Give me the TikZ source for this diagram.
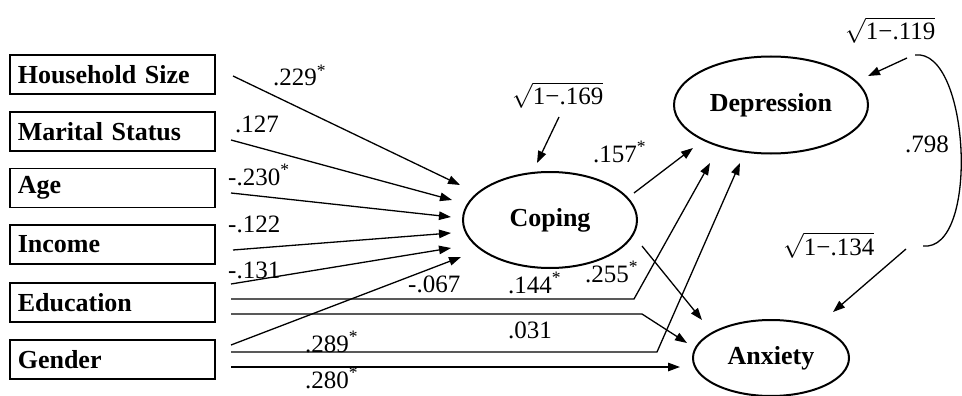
\documentclass[tikz,border=0pt]{standalone}
\usepackage{amsmath}
\usepackage{fontspec}
\setmainfont{Liberation Serif}
\usetikzlibrary{arrows.meta,shapes.geometric}

\begin{document}
\begin{tikzpicture}[x=1pt,y=-1pt,
  varbox/.style={draw,line width=1.6pt,anchor=west,minimum height=39pt,
    text width=189pt,inner xsep=8pt,align=left,
    font=\fontsize{26}{28}\selectfont\bfseries},
  latent/.style={draw,ellipse,line width=2pt,inner sep=0pt,
    font=\fontsize{26}{28}\selectfont\bfseries},
  arr/.style={-{Triangle[length=12pt,width=8.5pt]},line width=1.3pt},
  lbl/.style={anchor=base west,inner sep=0pt,font=\fontsize{25}{27}\selectfont}]
\useasboundingbox (0,0) rectangle (962,396);

% predictors
\node[varbox] (hs) at (9,74.5) {Household Size};
\node[varbox] (ms) at (9,131.5) {Marital Status};
\node[varbox] (age) at (9,188) {Age};
\node[varbox] (inc) at (9,244.5) {Income};
\node[varbox] (edu) at (9,302.5) {Education};
\node[varbox] (gen) at (9,359.5) {Gender};

% latent variables
\node[latent,minimum width=174pt,minimum height=96pt] (cop) at (550,220) {Coping};
\node[latent,minimum width=194pt,minimum height=97pt] (dep) at (771,105) {Depression};
\node[latent,minimum width=156pt,minimum height=76pt] (anx) at (771,358) {Anxiety};

% connector ends
\coordinate (hs-o) at (233,76);
\coordinate (ms-o) at (231,140);
\coordinate (age-o) at (231,193);
\coordinate (inc-o) at (233,250);
\coordinate (edu-o) at (231,284);
\coordinate (gen-o) at (231,345);
\coordinate (cop-a) at (460,185);
\coordinate (cop-b) at (452,200);
\coordinate (cop-c) at (451,217);
\coordinate (cop-d) at (451,233);
\coordinate (cop-e) at (451,248);
\coordinate (cop-f) at (461,257);

\draw[arr] (hs-o) -- (cop-a);
\draw[arr] (ms-o) -- (cop-b);
\draw[arr] (age-o) -- (cop-c);
\draw[arr] (inc-o) -- (cop-d);
\draw[arr] (edu-o) -- (cop-e);
\draw[arr] (gen-o) -- (cop-f);

% direct paths
\coordinate (edu-d) at (231,299);
\coordinate (edu-a) at (231,314);
\coordinate (gen-d) at (231,352);
\coordinate (gen-a) at (231,367);
\coordinate (dep-a) at (710,163);
\coordinate (dep-b) at (740,163);
\coordinate (anx-a) at (687,343);
\coordinate (anx-b) at (680,367);
\draw[arr] (edu-d) -- (634,299) -- (dep-a);
\draw[arr] (edu-a) -- (642,314) -- (anx-a);
\draw[arr] (gen-d) -- (657,352) -- (dep-b);
\draw[arr] (gen-a) -- (anx-b);

% mediator paths
\coordinate (cop-o1) at (634,193);
\coordinate (cop-o2) at (642,246);
\coordinate (dep-in) at (693,148);
\coordinate (anx-in) at (702,320);
\draw[arr] (cop-o1) -- (dep-in);
\draw[arr] (cop-o2) -- (anx-in);

% residuals
\node[lbl] (cop-e1) at (512,105) {$\sqrt{\mbox{1−.169}}$};
\node[lbl] (dep-e1) at (845,40) {$\sqrt{\mbox{1−.119}}$};
\node[lbl] (anx-e1) at (783,255) {$\sqrt{\mbox{1−.134}}$};
\coordinate (cop-r) at (559,117);
\coordinate (cop-rt) at (537,163);
\coordinate (dep-r) at (907,58);
\coordinate (dep-rt) at (868,76);
\coordinate (anx-r) at (906,249);
\coordinate (anx-rt) at (833,312);
\draw[arr] (cop-r) -- (cop-rt);
\draw[arr] (dep-r) -- (dep-rt);
\draw[arr] (anx-r) -- (anx-rt);

% correlation
\coordinate (cor-t) at (915,55);
\coordinate (cor-b) at (923,246);
\draw[line width=1.3pt] (cor-t) .. controls (970,48) and (980,252) .. (cor-b);

% estimates
\node[lbl] at (273,86) {.229\textsuperscript{*}};
\node[lbl] at (235,132) {.127};
\node[lbl] at (228,185) {-.230\textsuperscript{*}};
\node[lbl] at (228,232) {-.122};
\node[lbl] at (228,278) {-.131};
\node[lbl] at (408,292) {-.067};
\node[lbl] at (305,352) {.289\textsuperscript{*}};
\node[lbl] at (305,388) {.280\textsuperscript{*}};
\node[lbl] at (508,293) {.144\textsuperscript{*}};
\node[lbl] at (585,282) {.255\textsuperscript{*}};
\node[lbl] at (508,338) {.031};
\node[lbl] at (593,162) {.157\textsuperscript{*}};
\node[lbl] at (905,153) {.798};
\end{tikzpicture}
\end{document}
